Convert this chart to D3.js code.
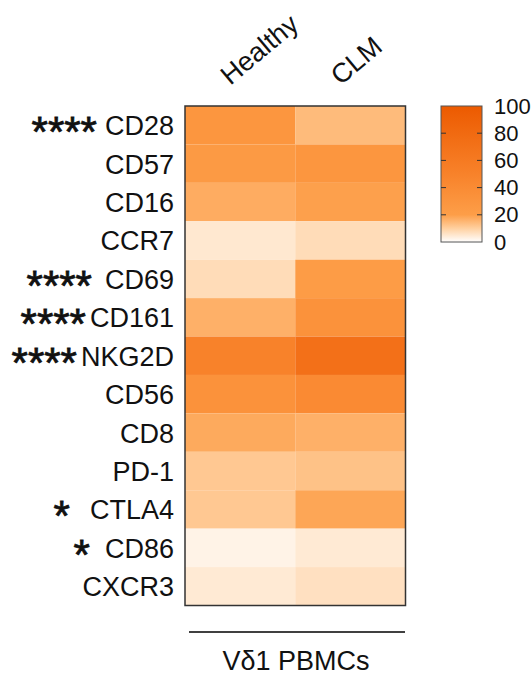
<!DOCTYPE html>
<html>
<head>
<meta charset="utf-8">
<script src="https://cdn.jsdelivr.net/npm/d3@7"></script>
<style>
  body { margin: 0; background: #fff; }
  text { font-family: "Liberation Sans", Arial, sans-serif; fill: #111; }
</style>
</head>
<body>
<script>
var width = 532, height = 677;

var groups = ["Healthy", "CLM"];
var markers = ["CD28", "CD57", "CD16", "CCR7", "CD69", "CD161", "NKG2D",
               "CD56", "CD8", "PD-1", "CTLA4", "CD86", "CXCR3"];
var stars = ["****", "", "", "", "****", "****", "****", "", "", "", "*", "*", ""];
var starGap = [8, 0, 0, 0, 13, 4, 4, 0, 0, 0, 20, 15, 0];
var healthy = [28.6, 24.3, 17.2, 5, 7.5, 16.4, 50, 33, 17.6, 11.6, 11.6, 2.5, 4.5];
var clm = [14.2, 28.6, 19.6, 7.5, 22, 33, 72, 41, 16.4, 12.8, 18.4, 4.5, 6.5];
var legendTicks = [0, 20, 40, 60, 80, 100];
var colorStops = [0, 10, 20, 50, 100];
var colorRange = ["#ffffff", "#ffd0a0", "#fd9e48", "#f8822a", "#ec5a00"];
var cellLabel = "V\u03b41 PBMCs";

var cells = [];
markers.forEach(function(m, i) {
    cells.push({marker: m, group: "Healthy", v: healthy[i]});
    cells.push({marker: m, group: "CLM", v: clm[i]});
});

var color = d3.scaleLinear().domain(colorStops).range(colorRange);

var x = d3.scaleBand().domain(groups).range([185, 405.5]);
var y = d3.scaleBand().domain(markers).range([106, 605.5]);

var svg = d3.select("body").append("svg")
    .attr("width", width)
    .attr("height", height);

// cells
svg.selectAll("rect.cell")
    .data(cells)
    .enter()
    .append("rect")
    .attr("class", "cell")
    .attr("x", function(d) { return x(d.group); })
    .attr("y", function(d) { return y(d.marker); })
    .attr("width", x.bandwidth())
    .attr("height", y.bandwidth())
    .attr("fill", function(d) { return color(d.v); });

svg.append("rect")
    .attr("x", x.range()[0])
    .attr("y", y.range()[0])
    .attr("width", x.range()[1] - x.range()[0])
    .attr("height", y.range()[1] - y.range()[0])
    .attr("fill", "none")
    .attr("stroke", "#333")
    .attr("stroke-width", 1.5);

// column labels
svg.selectAll("text.col")
    .data(groups)
    .enter()
    .append("text")
    .attr("class", "col")
    .attr("transform", function(d) {
        return "translate(" + (x(d) + x.bandwidth() / 2 - 10) + ",86) rotate(-40)";
    })
    .attr("font-size", 27)
    .text(function(d) { return d; });

// row labels
var labelRight = 174;
markers.forEach(function(m, i) {
    var cy = y(m) + y.bandwidth() / 2;
    var t = svg.append("text")
        .attr("x", labelRight)
        .attr("y", cy + 10)
        .attr("text-anchor", "end")
        .attr("font-size", 27)
        .text(m);
    if (stars[i]) {
        var w = t.node().getComputedTextLength();
        svg.append("text")
            .attr("x", labelRight - w - starGap[i])
            .attr("y", cy + 21)
            .attr("text-anchor", "end")
            .attr("font-size", 42)
            .attr("stroke", "#111")
            .attr("stroke-width", 0.8)
            .text(stars[i]);
    }
});

// bottom bracket + label
svg.append("line")
    .attr("x1", 189).attr("x2", 405)
    .attr("y1", 632).attr("y2", 632)
    .attr("stroke", "#000")
    .attr("stroke-width", 1.5);

svg.append("text")
    .attr("x", 296)
    .attr("y", 670)
    .attr("text-anchor", "middle")
    .attr("font-size", 27)
    .text(cellLabel);

// legend
var lx = 441, lw = 41;
var ly = d3.scaleLinear().domain([0, 100]).range([242, 106]);

var grad = svg.append("defs").append("linearGradient")
    .attr("id", "lg")
    .attr("x1", "0").attr("y1", "1").attr("x2", "0").attr("y2", "0");
grad.selectAll("stop")
    .data(colorStops)
    .enter()
    .append("stop")
    .attr("offset", function(d) { return d / 100; })
    .attr("stop-color", function(d) { return color(d); });

svg.append("rect")
    .attr("x", lx).attr("y", ly(100))
    .attr("width", lw).attr("height", ly(0) - ly(100))
    .attr("fill", "url(#lg)")
    .attr("stroke", "#555")
    .attr("stroke-width", 1);

var inner = legendTicks.filter(function(d) { return d > 0 && d < 100; });
svg.selectAll("line.tl")
    .data(inner).enter().append("line")
    .attr("x1", lx).attr("x2", lx + 5)
    .attr("y1", function(d) { return ly(d); })
    .attr("y2", function(d) { return ly(d); })
    .attr("stroke", "#333");
svg.selectAll("line.tr")
    .data(inner).enter().append("line")
    .attr("x1", lx + lw - 5).attr("x2", lx + lw)
    .attr("y1", function(d) { return ly(d); })
    .attr("y2", function(d) { return ly(d); })
    .attr("stroke", "#333");

svg.selectAll("text.lt")
    .data(legendTicks).enter().append("text")
    .attr("x", 494)
    .attr("y", function(d) { return ly(d) + 7.5; })
    .attr("font-size", 22)
    .text(function(d) { return d; });
</script>
</body>
</html>
